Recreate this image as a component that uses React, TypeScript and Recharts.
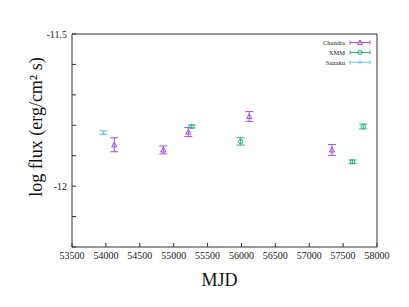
import { ScatterChart, Scatter, XAxis, YAxis, ErrorBar, Legend } from 'recharts';

// values
const chandraMjd = [54124, 54847, 55216, 56115, 57335];
const chandraFlux = [-11.864, -11.881, -11.822, -11.771, -11.881];
const chandraErr = [0.023, 0.013, 0.015, 0.016, 0.018];

const xmmMjd = [55265, 55988, 57640, 57797];
const xmmFlux = [-11.804, -11.853, -11.92, -11.804];
const xmmErr = [0.005, 0.012, 0.006, 0.008];

const suzakuMjd = [53962];
const suzakuFlux = [-11.824];
const suzakuErr = [0.006];

const xTicks = [53500, 54000, 54500, 55000, 55500, 56000, 56500, 57000, 57500, 58000];
const yTicks = [-12.2, -12.1, -12, -11.9, -11.8, -11.7, -11.6, -11.5];
const yLabelled = [-12, -11.5];

const FONT = '"Liberation Serif", "Times New Roman", serif';
const AXIS = '#333';

const toPoints = (xs: number[], ys: number[], es: number[]) =>
  xs.map((x, i) => ({ x, y: ys[i], err: es[i] }));

const SERIES = [
  { name: 'Chandra', color: '#a94ddb', marker: 'triangle', data: toPoints(chandraMjd, chandraFlux, chandraErr) },
  { name: 'XMM', color: '#2fae8a', marker: 'circle', data: toPoints(xmmMjd, xmmFlux, xmmErr) },
  { name: 'Suzaku', color: '#72c3ee', marker: 'cross', data: toPoints(suzakuMjd, suzakuFlux, suzakuErr) },
];

function Marker({ kind, cx, cy, color }: { kind: string; cx: number; cy: number; color: string }) {
  if (kind === 'triangle') {
    const s = 2.6;
    return (
      <polygon
        points={`${cx},${cy - s} ${cx - s},${cy + s * 0.8} ${cx + s},${cy + s * 0.8}`}
        fill="none"
        stroke={color}
        strokeWidth={1}
      />
    );
  }
  if (kind === 'circle') {
    return <circle cx={cx} cy={cy} r={2.2} fill="none" stroke={color} strokeWidth={1} />;
  }
  const s = 1.8;
  return (
    <g stroke={color} strokeWidth={1}>
      <line x1={cx - s} y1={cy - s} x2={cx + s} y2={cy + s} />
      <line x1={cx - s} y1={cy + s} x2={cx + s} y2={cy - s} />
    </g>
  );
}

function LegendBox() {
  return (
    <svg width={80} height={34} style={{ display: 'block' }}>
      {SERIES.map((s, i) => {
        const y = 6.5 + i * 9.9;
        return (
          <g key={s.name}>
            <text x={48} y={y} textAnchor="end" dominantBaseline="central" fontSize={6.5} fontFamily={FONT} fill="#222">
              {s.name}
            </text>
            <g stroke={s.color} strokeWidth={1}>
              <line x1={53} y1={y} x2={73} y2={y} />
              <line x1={53} y1={y - 2} x2={53} y2={y + 2} />
              <line x1={73} y1={y - 2} x2={73} y2={y + 2} />
            </g>
            <Marker kind={s.marker} cx={63} cy={y} color={s.color} />
          </g>
        );
      })}
    </svg>
  );
}

function XTick({ x, y, payload }: any) {
  return (
    <text x={x} y={y} dy="0.71em" textAnchor="middle" fontSize={10} fontFamily={FONT} fill="#222">
      {payload.value}
    </text>
  );
}

function YTick({ x, y, payload }: any) {
  const show = yLabelled.some((t) => Math.abs(t - payload.value) < 1e-6);
  if (!show) return null;
  return (
    <text x={x} y={y} dy="0.355em" textAnchor="end" fontSize={10} fontFamily={FONT} fill="#222">
      {String(payload.value)}
    </text>
  );
}

function YTitle() {
  return (
    <text
      x={36}
      y={127}
      transform="rotate(-90 36 127)"
      textAnchor="middle"
      dominantBaseline="central"
      fontSize={18}
      fontFamily={FONT}
      fill="#111"
    >
      log flux (erg/cm² s)
    </text>
  );
}

function XTitle() {
  return (
    <text x={219.5} y={286} textAnchor="middle" fontSize={18} fontFamily={FONT} fill="#111">
      MJD
    </text>
  );
}

export default function App() {
  return (
    <div style={{ position: 'absolute', left: 0, top: 0, background: '#fff' }}>
      <ScatterChart width={409} height={307} margin={{ top: 33, right: 31, bottom: 30, left: 32 }}>
        <XAxis
          type="number"
          dataKey="x"
          domain={[53500, 58000]}
          ticks={xTicks}
          interval={0}
          allowDataOverflow
          stroke={AXIS}
          tickSize={-4}
          tickMargin={9}
          tick={<XTick />}
          height={30}
          label={<XTitle />}
        />
        <XAxis
          xAxisId="top"
          orientation="top"
          type="number"
          domain={[53500, 58000]}
          ticks={xTicks}
          interval={0}
          stroke={AXIS}
          tickSize={-4}
          tick={false}
          height={1}
        />
        <YAxis
          type="number"
          dataKey="y"
          domain={[-12.2, -11.5]}
          ticks={yTicks}
          interval={0}
          allowDataOverflow
          stroke={AXIS}
          tickSize={-4}
          tickMargin={9}
          tick={<YTick />}
          width={40}
          label={<YTitle />}
        />
        <YAxis
          yAxisId="right"
          orientation="right"
          type="number"
          domain={[-12.2, -11.5]}
          ticks={yTicks}
          interval={0}
          stroke={AXIS}
          tickSize={-4}
          tick={false}
          width={1}
        />
        <Legend
          layout="horizontal"
          verticalAlign="middle"
          align="center"
          content={() => <LegendBox />}
          wrapperStyle={{ position: 'absolute', left: 297, top: 36, width: 80, height: 34 }}
        />
        {SERIES.map((s) => (
          <Scatter
            key={s.name}
            name={s.name}
            data={s.data}
            fill={s.color}
            isAnimationActive={false}
            shape={(p: any) => <Marker kind={s.marker} cx={p.cx} cy={p.cy} color={s.color} />}
          >
            <ErrorBar dataKey="err" direction="y" width={4} stroke={s.color} strokeWidth={1} isAnimationActive={false} />
          </Scatter>
        ))}
      </ScatterChart>
    </div>
  );
}
